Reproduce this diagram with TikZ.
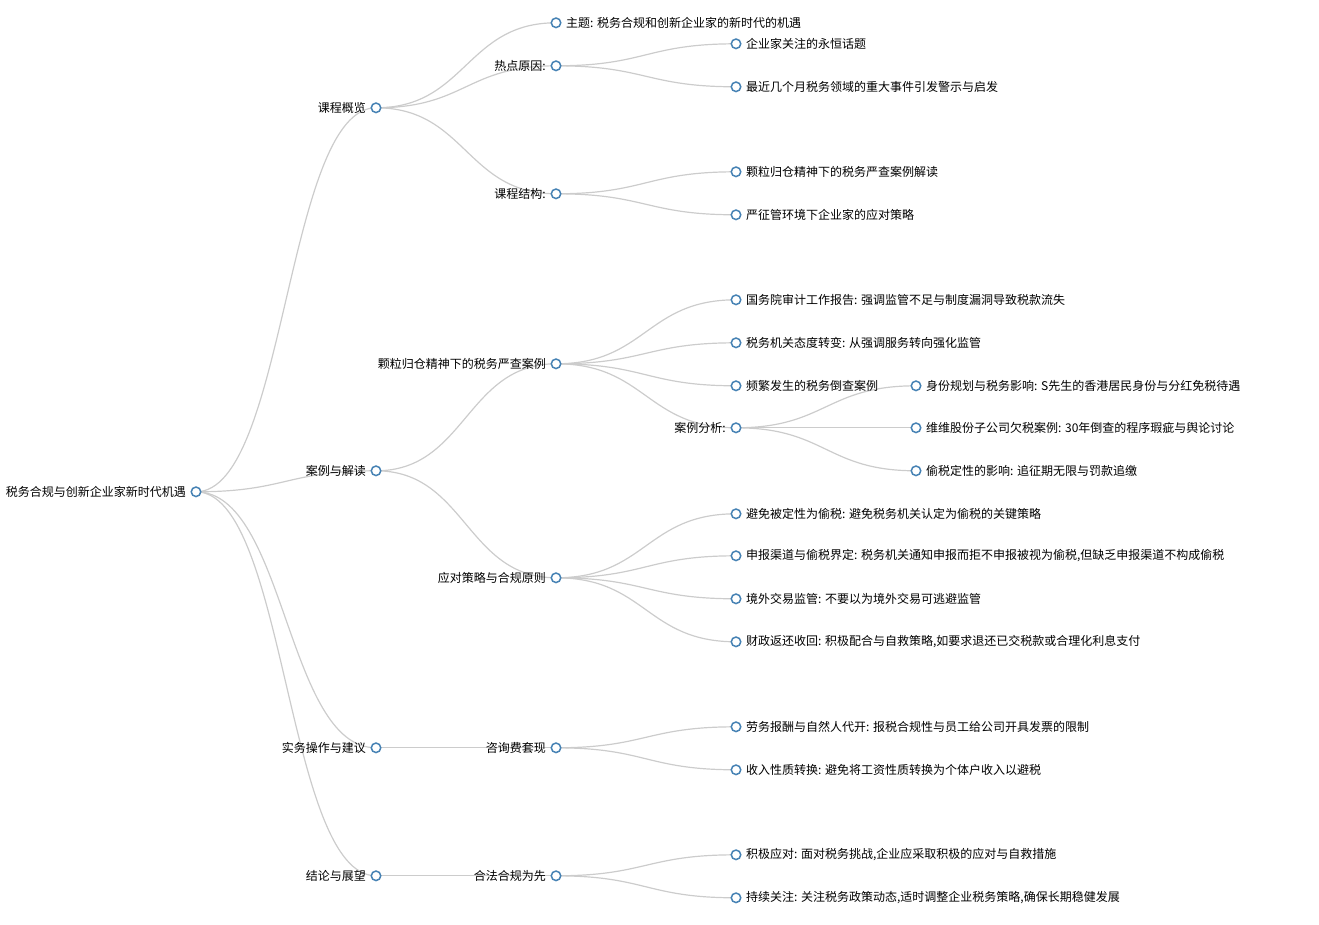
\documentclass[tikz,border=0pt]{standalone}
\usepackage{fontspec}
\setmainfont{Noto Sans CJK SC}
\usetikzlibrary{backgrounds,calc}
\definecolor{nodeblue}{HTML}{4682B4}
\definecolor{linkgray}{HTML}{CCCCCC}
\tikzset{
  dot/.style={circle,draw=nodeblue,line width=1.5pt,fill=white,minimum size=9.5pt,inner sep=0pt},
  lbl/.style={font=\fontsize{12}{14}\selectfont,inner sep=1pt,text=black},
  lt/.style={label={[lbl,label distance=3.5pt]left:#1}},
  rt/.style={label={[lbl,label distance=3.5pt]right:#1}},
  link/.style={draw=linkgray,line width=1.2pt}
}
\newcommand{\lnk}[2]{\draw[link] let \p1=(#1.center), \p2=(#2.center) in (\p1) .. controls ({(\x1+\x2)/2},\y1) and ({(\x1+\x2)/2},\y2) .. (\p2);}
\begin{document}
\begin{tikzpicture}[x=1pt,y=-1pt]
\useasboundingbox (0,-0.8) rectangle (1319,924.2);
% root
\node[dot,lt={税务合规与创新企业家新时代机遇}] (r) at (196,491) {};
% level 1
\node[dot,lt={课程概览}] (a) at (376,107) {};
\node[dot,lt={案例与解读}] (b) at (376,470) {};
\node[dot,lt={实务操作与建议}] (c) at (376,747) {};
\node[dot,lt={结论与展望}] (d) at (376,875) {};
% level 2
\node[dot,rt={主题: 税务合规和创新企业家的新时代的机遇}] (a1) at (556,22) {};
\node[dot,lt={热点原因:}] (a2) at (556,65) {};
\node[dot,lt={课程结构:}] (a3) at (556,193) {};
\node[dot,lt={颗粒归仓精神下的税务严查案例}] (b1) at (556,363) {};
\node[dot,lt={应对策略与合规原则}] (b2) at (556,577) {};
\node[dot,lt={咨询费套现}] (c1) at (556,747) {};
\node[dot,lt={合法合规为先}] (d1) at (556,875) {};
% level 3
\node[dot,rt={企业家关注的永恒话题}] (a21) at (736,43) {};
\node[dot,rt={最近几个月税务领域的重大事件引发警示与启发}] (a22) at (736,86) {};
\node[dot,rt={颗粒归仓精神下的税务严查案例解读}] (a31) at (736,171) {};
\node[dot,rt={严征管环境下企业家的应对策略}] (a32) at (736,214) {};
\node[dot,rt={国务院审计工作报告: 强调监管不足与制度漏洞导致税款流失}] (b11) at (736,299) {};
\node[dot,rt={税务机关态度转变: 从强调服务转向强化监管}] (b12) at (736,342) {};
\node[dot,rt={频繁发生的税务倒查案例}] (b13) at (736,385) {};
\node[dot,lt={案例分析:}] (b14) at (736,427) {};
\node[dot,rt={避免被定性为偷税: 避免税务机关认定为偷税的关键策略}] (b21) at (736,513) {};
\node[dot,rt={申报渠道与偷税界定: 税务机关通知申报而拒不申报被视为偷税,但缺乏申报渠道不构成偷税}] (b22) at (736,555) {};
\node[dot,rt={境外交易监管: 不要以为境外交易可逃避监管}] (b23) at (736,598) {};
\node[dot,rt={财政返还收回: 积极配合与自救策略,如要求退还已交税款或合理化利息支付}] (b24) at (736,641) {};
\node[dot,rt={劳务报酬与自然人代开: 报税合规性与员工给公司开具发票的限制}] (c11) at (736,726) {};
\node[dot,rt={收入性质转换: 避免将工资性质转换为个体户收入以避税}] (c12) at (736,769) {};
\node[dot,rt={积极应对: 面对税务挑战,企业应采取积极的应对与自救措施}] (d11) at (736,854) {};
\node[dot,rt={持续关注: 关注税务政策动态,适时调整企业税务策略,确保长期稳健发展}] (d12) at (736,897) {};
% level 4
\node[dot,rt={身份规划与税务影响: S先生的香港居民身份与分红免税待遇}] (b141) at (916,385) {};
\node[dot,rt={维维股份子公司欠税案例: 30年倒查的程序瑕疵与舆论讨论}] (b142) at (916,427) {};
\node[dot,rt={偷税定性的影响: 追征期无限与罚款追缴}] (b143) at (916,470) {};
\begin{scope}[on background layer]
\lnk{r}{a}\lnk{r}{b}\lnk{r}{c}\lnk{r}{d}
\lnk{a}{a1}\lnk{a}{a2}\lnk{a}{a3}
\lnk{b}{b1}\lnk{b}{b2}
\lnk{c}{c1}\lnk{d}{d1}
\lnk{a2}{a21}\lnk{a2}{a22}\lnk{a3}{a31}\lnk{a3}{a32}
\lnk{b1}{b11}\lnk{b1}{b12}\lnk{b1}{b13}\lnk{b1}{b14}
\lnk{b2}{b21}\lnk{b2}{b22}\lnk{b2}{b23}\lnk{b2}{b24}
\lnk{c1}{c11}\lnk{c1}{c12}\lnk{d1}{d11}\lnk{d1}{d12}
\lnk{b14}{b141}\lnk{b14}{b142}\lnk{b14}{b143}
\end{scope}
\end{tikzpicture}
\end{document}
